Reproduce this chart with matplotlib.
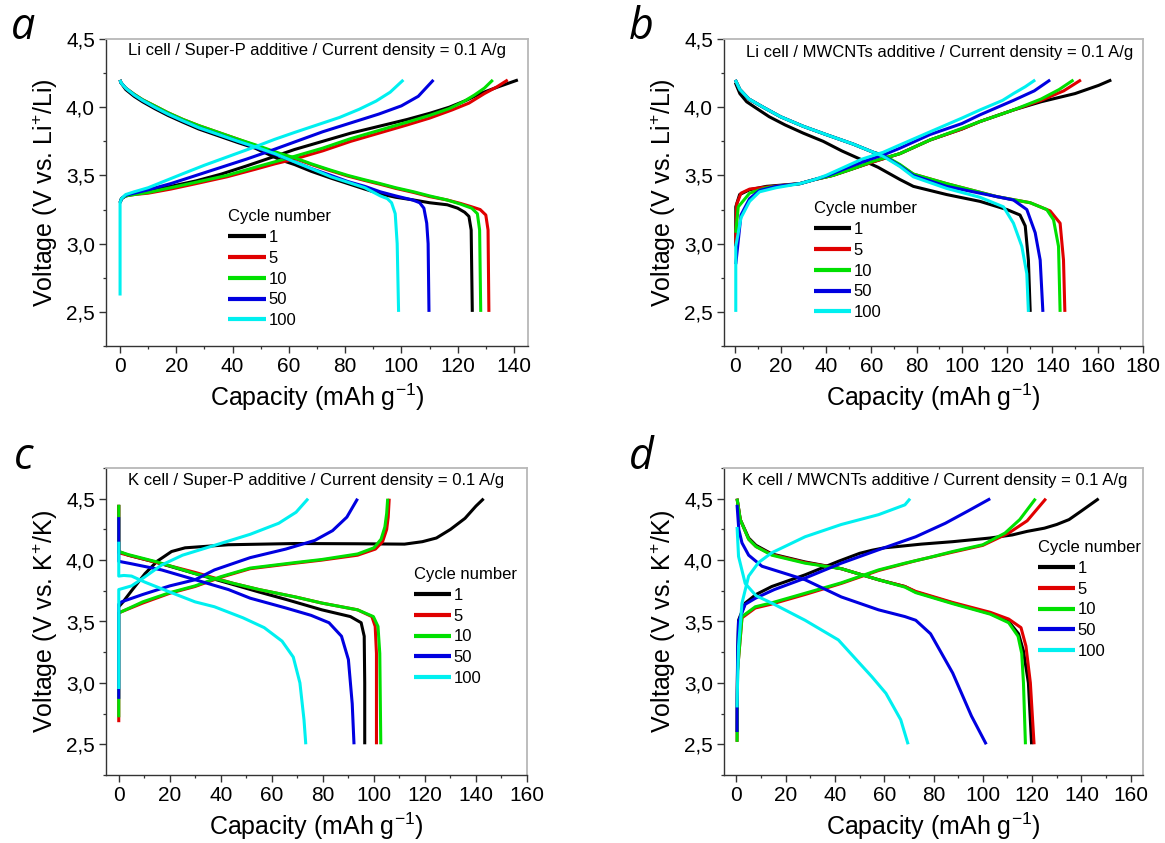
import numpy as np
import matplotlib
matplotlib.use('Agg')
import matplotlib.pyplot as plt
from matplotlib.ticker import MultipleLocator, FuncFormatter

plt.rcParams['font.family'] = ['Liberation Sans', 'DejaVu Sans']
plt.rcParams['mathtext.fontset'] = 'custom'
plt.rcParams['mathtext.rm'] = 'Liberation Sans'
plt.rcParams['mathtext.it'] = 'Liberation Sans:italic'

cycles = ['1', '5', '10', '50', '100']
colors = ['#000000', '#e00000', '#00e000', '#0000e0', '#00f0f0']

# ---- panel a : Li cell / Super-P ----  (capacity mAh/g, voltage V)
a_chg_1 = [(0, 3.30), (0.5, 3.33), (2, 3.35), (5, 3.365), (10, 3.385), (18, 3.42), (27, 3.46), (36, 3.51),
           (45, 3.57), (55, 3.64), (62, 3.69), (72, 3.75), (82, 3.81), (92, 3.86), (102, 3.91), (110, 3.955),
           (117, 4.0), (123, 4.05), (128, 4.10), (134.5, 4.15), (141.4, 4.20)]
a_chg_5 = [(0, 3.30), (0.5, 3.33), (2, 3.35), (5, 3.36), (10, 3.37), (18, 3.40), (27, 3.44), (38, 3.49),
           (48, 3.545), (55, 3.585), (62, 3.62), (72, 3.68), (82, 3.75), (92, 3.81), (102, 3.87), (110, 3.92),
           (118, 3.98), (124, 4.03), (129.5, 4.10), (134, 4.15), (137.8, 4.20)]
a_chg_10 = [(0, 3.30), (0.5, 3.33), (2, 3.35), (5, 3.36), (10, 3.375), (18, 3.41), (27, 3.45), (38, 3.50),
            (48, 3.56), (55, 3.60), (62, 3.64), (72, 3.70), (82, 3.77), (92, 3.83), (102, 3.89), (110, 3.94),
            (117, 3.99), (122, 4.04), (126, 4.09), (129.5, 4.14), (132.5, 4.20)]
a_chg_50 = [(0, 3.30), (0.5, 3.33), (2, 3.355), (5, 3.37), (10, 3.395), (18, 3.44), (27, 3.50), (36, 3.56),
            (45, 3.62), (52, 3.67), (62, 3.745), (72, 3.82), (82, 3.885), (92, 3.95), (100, 4.01), (106, 4.08),
            (111.4, 4.20)]
a_chg_100 = [(0, 2.62), (0, 3.30), (0.5, 3.33), (2, 3.36), (5, 3.38), (10, 3.41), (16, 3.46), (22, 3.51),
             (30, 3.575), (40, 3.65), (48, 3.71), (55, 3.765), (62, 3.815), (70, 3.87), (78, 3.925), (85, 3.985),
             (91, 4.045), (96, 4.11), (100.7, 4.20)]

a_dis_1 = [(0, 4.20), (0.3, 4.18), (2, 4.13), (5, 4.08), (8, 4.04), (12.3, 3.99), (17, 3.94), (22.4, 3.89),
           (28, 3.84), (35, 3.79), (42, 3.74), (48, 3.70), (57, 3.614), (62, 3.58), (68, 3.53), (75, 3.48),
           (81, 3.44), (87, 3.40), (92.5, 3.365), (98, 3.34), (104.4, 3.32), (110, 3.30), (116.3, 3.285),
           (120, 3.26), (122.5, 3.23), (124, 3.20), (124.8, 3.10), (125.2, 2.50)]
a_dis_5 = [(0, 4.20), (0.3, 4.18), (2, 4.14), (5, 4.095), (8, 4.055), (12.3, 4.01), (17, 3.96), (22.4, 3.91),
           (28, 3.865), (35, 3.815), (42, 3.765), (48, 3.72), (57, 3.655), (62, 3.625), (68, 3.58), (74.7, 3.535),
           (81, 3.495), (86.6, 3.465), (92.5, 3.435), (98, 3.405), (104.4, 3.375), (110, 3.345), (116.3, 3.32),
           (121, 3.295), (125, 3.27), (128, 3.25), (130, 3.21), (130.8, 3.10), (131.1, 2.50)]
a_dis_10 = [(0, 4.20), (0.3, 4.18), (2, 4.14), (5, 4.095), (8, 4.055), (12.3, 4.01), (17, 3.96), (22.4, 3.91),
            (28, 3.865), (35, 3.815), (42, 3.765), (48, 3.725), (57, 3.66), (62, 3.63), (68, 3.585), (74.7, 3.54),
            (81, 3.50), (86.6, 3.47), (92.5, 3.44), (98, 3.41), (104.4, 3.38), (110, 3.35), (116.3, 3.32),
            (121, 3.29), (125, 3.26), (127, 3.22), (127.8, 3.10), (128.2, 2.50)]
a_dis_50 = [(0, 4.20), (0.3, 4.18), (2, 4.14), (5, 4.09), (8, 4.05), (12.3, 4.0), (17, 3.95), (22.4, 3.90),
            (28, 3.85), (35, 3.80), (42, 3.75), (48, 3.705), (55, 3.655), (62, 3.60), (68, 3.55), (75, 3.50),
            (81, 3.455), (87, 3.42), (92.5, 3.38), (98, 3.35), (104, 3.32), (106.5, 3.30), (108, 3.26),
            (109, 3.15), (109.5, 3.0), (109.8, 2.50)]
a_dis_100 = [(0, 4.20), (0.3, 4.18), (2, 4.14), (5, 4.09), (8, 4.05), (12.3, 4.0), (17, 3.95), (22.4, 3.90),
             (28, 3.85), (35, 3.80), (42, 3.75), (48, 3.71), (55, 3.66), (62, 3.60), (68, 3.55), (75, 3.49),
             (81, 3.45), (87, 3.41), (92.5, 3.35), (95, 3.33), (96.5, 3.30), (97.8, 3.22), (98.5, 3.0), (99, 2.50)]

# ---- panel b : Li cell / MWCNTs ----
b_chg_1 = [(0.2, 2.98), (0.2, 3.27), (1.9, 3.36), (6.3, 3.395), (13.7, 3.42), (28.5, 3.44), (35, 3.47),
           (43, 3.50), (52, 3.55), (60.9, 3.60), (72.7, 3.66), (86, 3.76), (100, 3.84), (108, 3.895),
           (122.8, 3.98), (135, 4.04), (150, 4.10), (160.4, 4.16), (166, 4.20)]
b_chg_5 = [(0.2, 3.0), (0.6, 3.29), (2.5, 3.37), (6.3, 3.40), (13.7, 3.415), (28.5, 3.44), (35, 3.47),
           (43, 3.50), (52, 3.55), (60.9, 3.60), (72.7, 3.66), (86, 3.76), (100, 3.84), (108, 3.895),
           (122.8, 3.98), (135, 4.05), (145, 4.12), (152.6, 4.20)]
b_chg_10 = [(0.2, 3.08), (1.3, 3.27), (6.3, 3.37), (13.7, 3.41), (28.5, 3.44), (35, 3.47), (43, 3.50),
            (52, 3.55), (60.9, 3.605), (72.7, 3.66), (86, 3.76), (100, 3.845), (108, 3.895), (122.8, 3.98),
            (135, 4.06), (143, 4.13), (149.3, 4.20)]
b_chg_50 = [(0.2, 2.85), (2.5, 3.21), (6.3, 3.33), (10.7, 3.39), (18, 3.42), (28.5, 3.44), (35, 3.47),
            (41, 3.50), (50, 3.56), (58, 3.61), (65.3, 3.65), (72.7, 3.70), (86, 3.80), (100, 3.88),
            (108, 3.944), (122.8, 4.05), (132, 4.12), (139, 4.20)]
b_chg_100 = [(0.2, 2.50), (0.2, 2.98), (2.5, 3.19), (6.3, 3.31), (10.7, 3.38), (18, 3.41), (28.5, 3.44),
             (35, 3.47), (40, 3.50), (48, 3.56), (56, 3.62), (65.3, 3.67), (72.7, 3.724), (86, 3.82),
             (100, 3.92), (108, 3.98), (118, 4.05), (122.8, 4.10), (128, 4.15), (132.4, 4.20)]

b_dis_1 = [(0, 4.18), (2, 4.10), (5, 4.04), (8.6, 4.0), (15, 3.93), (22, 3.87), (30, 3.81), (38.8, 3.75),
           (47, 3.68), (56.4, 3.61), (63, 3.56), (72.7, 3.47), (78.6, 3.42), (93.3, 3.36), (108, 3.31),
           (119.9, 3.25), (125.7, 3.21), (128, 3.13), (129.4, 2.88), (130.2, 2.50)]
b_dis_5 = [(0, 4.20), (2, 4.13), (6, 4.06), (12.3, 4.0), (20, 3.93), (30, 3.86), (40, 3.80), (52, 3.73),
           (60.9, 3.67), (65.3, 3.645), (72.7, 3.575), (78.6, 3.51), (93.3, 3.44), (115.4, 3.345),
           (130.2, 3.30), (139, 3.24), (143.4, 3.15), (144.9, 2.88), (145.5, 2.50)]
b_dis_10 = [(0, 4.20), (2, 4.13), (6, 4.06), (12.3, 4.0), (20, 3.93), (30, 3.86), (40, 3.80), (52, 3.73),
            (60.9, 3.67), (65.3, 3.65), (72.7, 3.58), (78.6, 3.51), (93.3, 3.44), (115.4, 3.345),
            (130.2, 3.30), (137.5, 3.25), (140.5, 3.175), (142.7, 2.98), (143.4, 2.50)]
b_dis_50 = [(0, 4.20), (2, 4.13), (6, 4.06), (12.3, 4.0), (20, 3.93), (30, 3.86), (40, 3.80), (52, 3.73),
            (60.9, 3.67), (65.3, 3.645), (72.7, 3.57), (78.6, 3.50), (93.3, 3.42), (108, 3.37),
            (122.8, 3.32), (128.7, 3.25), (132.4, 3.08), (134.6, 2.88), (135.8, 2.50)]
b_dis_100 = [(0, 4.20), (2, 4.13), (6, 4.06), (12.3, 4.0), (20, 3.93), (30, 3.86), (40, 3.80), (52, 3.73),
             (60.9, 3.67), (65.3, 3.64), (72.7, 3.565), (78.6, 3.49), (93.3, 3.405), (108, 3.34),
             (118.4, 3.27), (122.8, 3.15), (126.5, 2.98), (128.7, 2.78), (129.4, 2.50)]

# ---- panel c : K cell / Super-P ----
c_chg_1 = [(0, 3.62), (1.7, 3.66), (5, 3.75), (10.3, 3.89), (15, 3.99), (20.7, 4.07), (26, 4.10), (43, 4.125),
           (69.2, 4.135), (93.6, 4.133), (112, 4.13), (119, 4.15), (124.5, 4.18), (130, 4.25), (135.7, 4.34),
           (140, 4.44), (143, 4.50)]
c_chg_5 = [(0, 2.68), (0, 3.57), (1.1, 3.58), (9.4, 3.65), (20, 3.73), (29.9, 3.785), (40, 3.86),
           (51.5, 3.93), (69.2, 3.975), (79.6, 4.0), (93.6, 4.04), (100.6, 4.09), (103.4, 4.15), (105, 4.25),
           (105.6, 4.35), (106, 4.50)]
c_chg_10 = [(0, 2.72), (0, 3.57), (1.1, 3.58), (9.4, 3.66), (20, 3.735), (29.9, 3.79), (40, 3.865),
            (51.5, 3.935), (69.2, 3.98), (79.6, 4.005), (93.6, 4.05), (100, 4.10), (102.8, 4.17),
            (104.3, 4.27), (105, 4.38), (105.4, 4.50)]
c_chg_50 = [(0, 2.87), (0, 3.64), (1.1, 3.66), (9.4, 3.72), (20, 3.79), (29.9, 3.84), (37.5, 3.92),
            (51.5, 4.02), (65.5, 4.09), (76.8, 4.16), (83.8, 4.24), (89.4, 4.35), (93.6, 4.50)]
c_chg_100 = [(0, 2.95), (0, 3.76), (5, 3.79), (10, 3.86), (16.8, 3.96), (25, 4.04), (37.5, 4.12),
             (51.5, 4.21), (62.7, 4.30), (69.5, 4.39), (74.2, 4.50)]

c_dis_1 = [(0, 4.45), (0, 4.07), (3.7, 4.04), (15, 3.98), (29.9, 3.89), (45, 3.80), (55, 3.74),
           (65.5, 3.68), (79.6, 3.595), (90.8, 3.54), (95, 3.49), (96.2, 3.38), (96.4, 3.0), (96.4, 2.50)]
c_dis_5 = [(0, 4.45), (0, 4.06), (3.7, 4.04), (15, 3.98), (29.9, 3.90), (45, 3.81), (55, 3.76),
           (69.2, 3.70), (79.6, 3.65), (93.6, 3.595), (99.2, 3.54), (100.5, 3.46), (101, 3.24), (101, 2.50)]
c_dis_10 = [(0, 4.45), (0, 4.07), (3.7, 4.045), (15, 3.985), (29.9, 3.89), (45, 3.81), (55, 3.76),
            (69.2, 3.70), (79.6, 3.65), (93.6, 3.595), (99.8, 3.54), (101.6, 3.46), (102.3, 3.24), (102.7, 2.50)]
c_dis_50 = [(0, 4.35), (0, 3.99), (5, 3.97), (16.8, 3.92), (30, 3.84), (43, 3.76), (51.5, 3.69),
            (65.5, 3.61), (75.4, 3.55), (82.4, 3.49), (87.3, 3.38), (90, 3.19), (91.5, 2.83), (92.2, 2.50)]
c_dis_100 = [(0, 4.15), (0, 3.87), (2, 3.875), (5, 3.87), (10.3, 3.82), (20, 3.74), (29.9, 3.66),
             (37.5, 3.62), (48.7, 3.53), (57, 3.45), (64, 3.34), (68.4, 3.21), (71, 3.0), (72.6, 2.70), (73.3, 2.50)]

# ---- panel d : K cell / MWCNTs ----
d_chg_1 = [(0.3, 2.60), (0.5, 3.20), (0.9, 3.51), (3.6, 3.65), (8, 3.72), (14.4, 3.785), (27.9, 3.88),
           (41.4, 3.99), (50, 4.055), (55, 4.08), (60, 4.10), (65.2, 4.11), (75, 4.13), (87.8, 4.15),
           (103, 4.18), (112, 4.205), (118, 4.234), (125, 4.26), (130, 4.29), (135, 4.33), (140, 4.40),
           (147, 4.50)]
d_chg_5 = [(0.3, 2.52), (0.5, 3.10), (2.3, 3.53), (7.7, 3.61), (14, 3.64), (27.9, 3.72), (42.6, 3.81),
           (57.7, 3.915), (72.8, 3.995), (87.8, 4.065), (100, 4.12), (110.5, 4.22), (118, 4.32), (125.6, 4.50)]
d_chg_10 = [(0.3, 2.52), (0.5, 3.10), (2.3, 3.54), (7.7, 3.62), (14, 3.65), (27.9, 3.73), (42.6, 3.815),
            (57.7, 3.92), (68.4, 3.975), (78, 4.02), (87.8, 4.07), (100, 4.125), (109, 4.22), (115, 4.33),
            (121.4, 4.50)]
d_chg_50 = [(0.3, 2.60), (0.3, 2.80), (0.6, 3.30), (0.9, 3.50), (3.6, 3.64), (7.8, 3.69), (15.4, 3.76),
            (27.5, 3.85), (42.6, 3.975), (57.7, 4.084), (72.8, 4.19), (84.8, 4.30), (94, 4.40), (103, 4.50)]
d_chg_100 = [(0.3, 2.80), (0.5, 3.0), (0.9, 3.30), (2.3, 3.65), (5, 3.87), (9, 3.98), (14.4, 4.06),
             (27.9, 4.19), (42.6, 4.29), (57.7, 4.37), (68.4, 4.45), (70.5, 4.50)]

d_dis_1 = [(0.3, 4.50), (1.6, 4.33), (5, 4.18), (8, 4.12), (14.4, 4.05), (27.9, 3.985), (42.6, 3.93),
           (57.7, 3.84), (68.4, 3.785), (72.8, 3.74), (87.8, 3.65), (103, 3.565), (110.5, 3.50),
           (114.5, 3.40), (116.5, 3.26), (118.5, 3.0), (119.8, 2.50)]
d_dis_5 = [(0.3, 4.50), (1.6, 4.33), (5, 4.17), (8, 4.11), (14.4, 4.045), (27.9, 3.98), (42.6, 3.93),
           (57.7, 3.84), (68.4, 3.785), (72.8, 3.745), (87.8, 3.655), (103, 3.575), (110.5, 3.52),
           (115.5, 3.45), (117.5, 3.30), (119.3, 3.0), (120.8, 2.50)]
d_dis_10 = [(0.3, 4.50), (1.6, 4.33), (5, 4.17), (8, 4.11), (14.4, 4.04), (27.9, 3.975), (42.6, 3.93),
            (57.7, 3.84), (68.4, 3.78), (72.8, 3.735), (87.8, 3.645), (103, 3.56), (110.5, 3.49),
            (114.3, 3.38), (115.8, 3.24), (116.5, 3.0), (117.3, 2.50)]
d_dis_50 = [(0.3, 4.45), (1, 4.25), (2.3, 4.14), (5, 4.04), (10.4, 3.95), (27.9, 3.84), (42.6, 3.70),
            (57.7, 3.595), (68.4, 3.54), (72.8, 3.51), (78.8, 3.40), (87.8, 3.08), (95.4, 2.73), (101.4, 2.50)]
d_dis_100 = [(0.3, 4.27), (0.9, 4.03), (3.6, 3.81), (8, 3.71), (14.4, 3.65), (27.9, 3.51), (41.4, 3.35),
             (50, 3.16), (55, 3.05), (60.7, 2.915), (66.7, 2.70), (69.7, 2.50)]

titles = ['Li cell / Super-P additive / Current density = 0.1 A/g',
          'Li cell / MWCNTs additive / Current density = 0.1 A/g',
          'K cell / Super-P additive / Current density = 0.1 A/g',
          'K cell / MWCNTs additive / Current density = 0.1 A/g']
letters = ['a', 'b', 'c', 'd']
metals = ['Li', 'Li', 'K', 'K']

discharge = [[a_dis_1, a_dis_5, a_dis_10, a_dis_50, a_dis_100],
             [b_dis_1, b_dis_5, b_dis_10, b_dis_50, b_dis_100],
             [c_dis_1, c_dis_5, c_dis_10, c_dis_50, c_dis_100],
             [d_dis_1, d_dis_5, d_dis_10, d_dis_50, d_dis_100]]
charge = [[a_chg_1, a_chg_5, a_chg_10, a_chg_50, a_chg_100],
          [b_chg_1, b_chg_5, b_chg_10, b_chg_50, b_chg_100],
          [c_chg_1, c_chg_5, c_chg_10, c_chg_50, c_chg_100],
          [d_chg_1, d_chg_5, d_chg_10, d_chg_50, d_chg_100]]

# layout (pixels) and per-panel axis settings
W, H = 1165, 843
ax_rects = [(106, 39, 528, 346), (724, 39, 1143, 346), (106, 468, 527, 775), (724, 468, 1143, 775)]
xlims = [(-5, 145), (-5, 180), (-5, 160), (-5, 165)]
xmax_tick = [140, 180, 160, 160]
ylims = [(2.25, 4.5), (2.25, 4.5), (2.25, 4.75), (2.25, 4.75)]
title_pos = [(0.5, 0.964), (0.514, 0.957), (0.498, 0.959), (0.504, 0.959)]
legend_pos = [(0.29, 0.446), (0.214, 0.472), (0.731, 0.678), (0.749, 0.766)]
letter_pos = [(11, 39), (629, 39), (14, 469), (629, 469)]

fig = plt.figure(figsize=(W / 100, H / 100), dpi=100)
comma = FuncFormatter(lambda v, p: f'{v:.1f}'.replace('.', ','))

for k in range(4):
    l, t, r, b = ax_rects[k]
    ax = fig.add_axes([l / W, 1 - b / H, (r - l) / W, (b - t) / H])
    handles = []
    for i in range(5):
        d = np.array(discharge[k][i])
        c = np.array(charge[k][i])
        ax.plot(d[:, 0], d[:, 1], color=colors[i], lw=2.2, solid_capstyle='butt')
        h, = ax.plot(c[:, 0], c[:, 1], color=colors[i], lw=2.2, solid_capstyle='butt')
        handles.append(h)

    ax.set_xlim(*xlims[k])
    ax.set_ylim(*ylims[k])
    ax.set_xticks(np.arange(0, xmax_tick[k] + 1, 20))
    ax.xaxis.set_minor_locator(MultipleLocator(10))
    ax.set_yticks(np.arange(2.5, 4.51, 0.5))
    ax.yaxis.set_minor_locator(MultipleLocator(0.25))
    ax.yaxis.set_major_formatter(comma)
    ax.tick_params(which='both', direction='out', top=False, right=False, colors='#333333',
                   labelcolor='black', labelsize=15)
    ax.tick_params(which='major', length=5, width=1, pad=3)
    ax.tick_params(which='minor', length=2.5, width=0.9)
    for s in ['left', 'bottom']:
        ax.spines[s].set_color('#333333')
        ax.spines[s].set_linewidth(1.0)
    for s in ['top', 'right']:
        ax.spines[s].set_color('#b8b8b8')
        ax.spines[s].set_linewidth(1.3)

    ax.set_xlabel('Capacity (mAh g$^{-1}$)', fontsize=18, labelpad=4)
    ax.set_ylabel('Voltage (V vs. %s$^{+}$/%s)' % (metals[k], metals[k]), fontsize=18, labelpad=4)
    ax.text(*title_pos[k], titles[k], transform=ax.transAxes, ha='center', va='center', fontsize=12)

    leg = ax.legend(handles, cycles, title='Cycle number', frameon=False, loc='upper left',
                    bbox_to_anchor=legend_pos[k], borderaxespad=0, borderpad=0, handlelength=2.25,
                    handletextpad=0.15, labelspacing=0.35, fontsize=12, title_fontsize=12,
                    alignment='left')
    for ln in leg.get_lines():
        ln.set_linewidth(3)

    fx, fy = letter_pos[k]
    fig.text(fx / W, 1 - fy / H, letters[k], fontsize=31, style='italic', va='baseline',
             family=['Open Sans', 'DejaVu Sans'])

fig.savefig('out.png', dpi=100)
